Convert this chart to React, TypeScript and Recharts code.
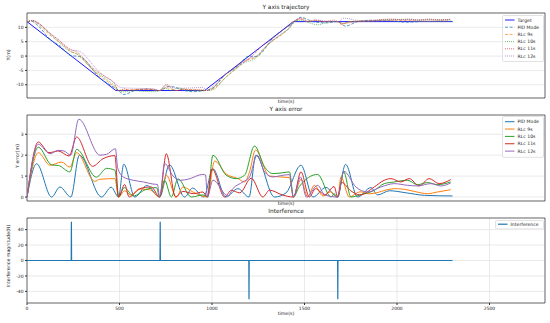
import React from 'react';
import { LineChart, Line, XAxis, YAxis, CartesianGrid, ReferenceArea } from 'recharts';

// shared axis ticks
const timeTicks = [0, 500, 1000, 1500, 2000, 2500];
const trajTicks = [-10, -5, 0, 5, 10];
const errTicks = [0, 1, 2, 3];
const intfTicks = [-40, -20, 0, 20, 40];

// ---- Y axis trajectory ----
const targetT = [0, 480, 960, 1440, 2300];
const targetY = [12, -12, -12, 12, 12];

const pidTrajT = [0, 25, 52, 133, 178, 237, 283, 403, 455, 495, 523, 583, 648, 717, 770, 852, 895, 955, 1005, 1075, 1140, 1200, 1237, 1338, 1400, 1440, 1481, 1546, 1616, 1676, 1722, 1787, 1859, 1960, 2050, 2150, 2300];
const pidTrajY = [12, 12.1, 11.0, 5.35, 3.58, 0.15, -0.15, -8.15, -10.28, -12, -13.4, -12, -11.5, -12, -10.5, -12, -12.4, -12, -11.1, -6.25, -3.4, 0, -0.15, 6.9, 9.8, 11.6, 13.5, 12, 11.55, 12, 10.45, 12, 12.45, 12.3, 11.8, 12.08, 12.05];

const rlc9TrajT = [0, 30, 61, 124, 187, 232, 268, 367, 475, 495, 528, 613, 663, 717, 753, 807, 843, 897, 975, 1014, 1077, 1140, 1176, 1203, 1235, 1311, 1419, 1440, 1481, 1517, 1553, 1600, 1680, 1697, 1742, 1850, 1985, 2039, 2093, 2165, 2219, 2290];
const rlc9TrajY = [12, 12.3, 11.05, 7.3, 4.3, 1.8, 0.7, -5.6, -10.9, -12, -11.8, -11.6, -11.6, -12, -11.0, -12, -11.5, -11.75, -12, -11.05, -7.25, -3.9, -1.9, -1.05, -0.5, 4.55, 10.0, 12, 12.85, 12, 12.55, 12, 12, 11.05, 12, 12.2, 12.4, 12.37, 12.27, 12.16, 12.24, 12.32];

const rlc10TrajT = [0, 30, 61, 169, 232, 268, 358, 430, 475, 495, 525, 575, 640, 700, 717, 744, 780, 816, 888, 975, 1005, 1077, 1131, 1176, 1230, 1284, 1329, 1383, 1419, 1440, 1472, 1571, 1643, 1680, 1712, 1751, 1877, 1931, 1985, 2057, 2111, 2165, 2219, 2290];
const rlc10TrajY = [12, 12.3, 11.34, 5.06, 1.6, 0.88, -4.94, -8.1, -10.47, -12, -12.45, -12, -12.35, -12.4, -12, -11.2, -12, -11.1, -12, -12, -11.75, -7.2, -4.33, -2.24, -0.94, 2.76, 5.33, 7.99, 9.75, 11.5, 12.5, 10.92, 12, 12, 11.4, 12, 12.32, 12.64, 12.72, 12.8, 12.59, 12.69, 12.59, 12.72];

const rlc11TrajT = [0, 30, 61, 119, 169, 228, 268, 358, 411, 475, 495, 528, 552, 609, 672, 717, 753, 803, 843, 951, 975, 1000, 1068, 1104, 1150, 1212, 1275, 1311, 1380, 1440, 1481, 1526, 1560, 1610, 1660, 1680, 1700, 1750, 1800, 1877, 1931, 1967, 2021, 2066, 2120, 2174, 2228, 2290];
const rlc11TrajY = [12, 12.4, 11.58, 8.17, 5.75, 2.56, 1.47, -4.38, -6.72, -9.77, -12, -11.4, -12, -11.6, -11.52, -12, -9.93, -12, -11.73, -11.76, -12, -11.35, -6.6, -5.12, -2.7, -0.3, 3.75, 5.22, 8.9, 12, 13.2, 12, 12.4, 12.1, 12.5, 12, 11.3, 11.7, 12.1, 12.48, 12.8, 12.88, 12.72, 12.88, 12.53, 12.88, 12.64, 12.83];

const rlc12TrajT = [0, 30, 61, 124, 169, 236, 280, 394, 430, 478, 494, 520, 575, 630, 681, 717, 744, 790, 830, 870, 950, 975, 1005, 1086, 1113, 1167, 1203, 1244, 1284, 1329, 1383, 1419, 1440, 1478, 1510, 1571, 1610, 1680, 1712, 1778, 1841, 1913, 1985, 2057, 2111, 2183, 2237, 2290];
const rlc12TrajY = [12, 12.4, 11.47, 7.87, 5.78, 2.2, 1.72, -5.7, -7.46, -9.59, -10.6, -11.04, -11.2, -11.28, -11.38, -12, -10.4, -11, -11.2, -11.15, -10.92, -12, -10.55, -5.7, -4.75, -2.37, -0.81, 0.2, 3.0, 5.49, 8.11, 9.88, 12, 12.96, 12, 12.56, 12.1, 12, 13.23, 12.48, 12.24, 12.48, 12.64, 12.56, 12.53, 12.64, 12.53, 12.67];

// ---- Y axis error ----
const pidErrT = [0, 52, 133, 178, 237, 283, 403, 455, 495, 523, 583, 648, 717, 770, 852, 895, 955, 1005, 1075, 1140, 1200, 1237, 1338, 1400, 1481, 1546, 1616, 1676, 1722, 1787, 1859, 1895, 1960, 2050, 2150, 2300];
const pidErr = [0, 1.59, 0, 0.48, 0, 2.0, 0, 0.47, 0, 1.57, 0, 0.55, 0, 1.54, 0, 0.43, 0, 1.35, 0, 0.4, 0, 2.0, 0, 0.2, 1.52, 0, 0.46, 0, 1.56, 0, 0.45, 0.1, 0.3, 0.2, 0.08, 0.05];

const rlc9ErrT = [0, 61, 124, 187, 232, 268, 367, 394, 475, 495, 528, 560, 613, 663, 717, 753, 807, 843, 897, 975, 1014, 1077, 1140, 1176, 1203, 1235, 1311, 1419, 1440, 1481, 1517, 1553, 1600, 1640, 1680, 1697, 1742, 1800, 1850, 1985, 2039, 2093, 2165, 2219, 2290];
const rlc9Err = [0, 2.12, 1.52, 1.67, 1.43, 2.12, 0.75, 0.85, 0.88, 0, 0.3, 0.1, 0.38, 0.35, 0, 1.05, 0, 0.48, 0.24, 0, 1.72, 1.1, 0.88, 0.72, 1.2, 2.25, 1.0, 0.93, 0, 0.85, 0, 0.56, 0.05, 0.25, 0, 0.96, 0, 0.25, 0.15, 0.4, 0.37, 0.27, 0.16, 0.24, 0.35];

const rlc10ErrT = [0, 61, 134, 169, 232, 268, 375, 430, 475, 495, 525, 575, 640, 700, 717, 744, 780, 816, 888, 951, 975, 1005, 1077, 1131, 1176, 1230, 1284, 1329, 1383, 1419, 1440, 1472, 1571, 1643, 1660, 1680, 1712, 1751, 1800, 1877, 1931, 1985, 2057, 2111, 2165, 2219, 2290];
const rlc10Err = [0, 2.38, 1.53, 1.51, 1.2, 2.28, 0.95, 1.37, 1.28, 0, 0.45, 0.05, 0.35, 0.45, 0, 0.8, 0, 0.87, 0, 0.1, 0, 2.0, 1.04, 0.88, 1.04, 2.44, 1.44, 1.12, 1.16, 1.2, 0, 0.5, 1.08, 0, 0.15, 0, 1.2, 0, 0.1, 0.32, 0.64, 0.72, 0.8, 0.59, 0.69, 0.59, 0.72];

const rlc11ErrT = [0, 61, 119, 169, 228, 268, 354, 411, 475, 495, 528, 552, 609, 672, 717, 753, 803, 843, 900, 951, 975, 1000, 1068, 1104, 1150, 1212, 1275, 1311, 1380, 1440, 1481, 1526, 1560, 1610, 1660, 1680, 1700, 1750, 1800, 1877, 1931, 1967, 2021, 2066, 2120, 2174, 2228, 2290];
const rlc11Err = [0, 2.63, 2.12, 2.2, 1.96, 2.87, 1.47, 1.83, 1.98, 0, 0.6, 0, 0.4, 0.48, 0, 2.07, 0, 0.27, 0.16, 0.24, 0, 1.35, 0, 0.32, 0.2, 0.9, 0, 0.33, 0.1, 0, 1.2, 0, 0.4, 0.1, 0.5, 0, 0.7, 0.3, 0.1, 0.48, 0.8, 0.88, 0.72, 0.88, 0.53, 0.88, 0.64, 0.83];

const rlc12ErrT = [0, 61, 124, 169, 200, 236, 280, 394, 430, 478, 490, 520, 575, 630, 681, 705, 717, 744, 790, 830, 870, 950, 965, 975, 1005, 1086, 1113, 1167, 1203, 1244, 1284, 1329, 1383, 1419, 1440, 1478, 1510, 1571, 1610, 1680, 1712, 1778, 1841, 1913, 1985, 2057, 2111, 2183, 2237, 2290];
const rlc12Err = [0, 2.52, 2.07, 2.23, 2.2, 2.0, 3.72, 2.0, 2.04, 2.31, 1.4, 0.96, 0.8, 0.72, 0.62, 0.6, 0, 1.6, 1.0, 0.8, 0.85, 1.08, 1.05, 0, 0.81, 0.05, 0.4, 0.72, 0.96, 2.0, 1.2, 0.96, 1.04, 1.07, 0, 0.96, 0, 0.56, 0.1, 0, 1.23, 0.48, 0.24, 0.48, 0.64, 0.56, 0.53, 0.64, 0.53, 0.67];

// ---- Interference ----
const intfT = [0, 239, 240, 241, 719, 720, 721, 1199, 1200, 1201, 1679, 1680, 1681, 2300];
const intfV = [0, 0, 50, 0, 0, 50, 0, 0, -50, 0, 0, -50, 0, 0];

const zip = (ts: number[], vs: number[]) => ts.map((t, i) => ({ t, v: vs[i] }));

const FONT = '"DejaVu Sans", sans-serif';
const X_MAX = 2800;

type SeriesDef = { name: string; data: { t: number; v: number }[]; color: string; dash?: string; width?: number; opacity?: number; curve?: 'monotone' | 'linear' };

const trajSeries: SeriesDef[] = [
  { name: 'Target', data: zip(targetT, targetY), color: '#1a1aff', width: 1, curve: 'linear' },
  { name: 'PID Mode', data: zip(pidTrajT, pidTrajY), color: '#1f77b4', dash: '3 1.6', width: 1, opacity: 0.75 },
  { name: 'RLc 9s', data: zip(rlc9TrajT, rlc9TrajY), color: '#ff7f0e', dash: '3 1.6', width: 0.9, opacity: 0.75 },
  { name: 'RLc 10s', data: zip(rlc10TrajT, rlc10TrajY), color: '#2ca02c', dash: '1 1', width: 0.9, opacity: 0.75 },
  { name: 'RLc 11s', data: zip(rlc11TrajT, rlc11TrajY), color: '#d62728', dash: '1 1', width: 0.9, opacity: 0.75 },
  { name: 'RLc 12s', data: zip(rlc12TrajT, rlc12TrajY), color: '#9467bd', dash: '1 1', width: 0.9, opacity: 0.75 },
];

const errSeries: SeriesDef[] = [
  { name: 'PID Mode', data: zip(pidErrT, pidErr), color: '#1f77b4' },
  { name: 'RLc 9s', data: zip(rlc9ErrT, rlc9Err), color: '#ff7f0e' },
  { name: 'RLc 10s', data: zip(rlc10ErrT, rlc10Err), color: '#2ca02c' },
  { name: 'RLc 11s', data: zip(rlc11ErrT, rlc11Err), color: '#d62728' },
  { name: 'RLc 12s', data: zip(rlc12ErrT, rlc12Err), color: '#9467bd' },
];

const intfSeries: SeriesDef[] = [
  { name: 'Interference', data: zip(intfT, intfV), color: '#1f77b4', width: 1.2, curve: 'linear' },
];

const Panel = ({ top, plotH, yDomain, yTicks, series, showX }: { top: number; plotH: number; yDomain: [number, number]; yTicks: number[]; series: SeriesDef[]; showX: boolean }) => {
  const xh = showX ? 12 : 3;
  return (
    <div style={{ position: 'absolute', left: 0, top: top - 2 }}>
      <LineChart width={550} height={plotH + 2 + xh} margin={{ top: 2, right: 5, bottom: 0, left: 0 }}>
        <CartesianGrid stroke="#dcdcdc" strokeWidth={0.6} />
        <XAxis
          type="number"
          dataKey="t"
          domain={[0, X_MAX]}
          ticks={timeTicks}
          interval={0}
          allowDataOverflow
          height={xh}
          tickSize={2}
          tickMargin={1.5}
          axisLine={false}
          stroke="#333"
          tick={showX ? { fontSize: 4.5, fill: '#222', fontFamily: FONT } : false}
        />
        <YAxis
          type="number"
          domain={yDomain}
          ticks={yTicks}
          interval={0}
          allowDataOverflow
          width={27}
          tickSize={2}
          tickMargin={1.5}
          axisLine={false}
          stroke="#333"
          tick={{ fontSize: 4.5, fill: '#222', fontFamily: FONT }}
        />
        {series.map((s) => (
          <Line
            key={s.name}
            data={s.data}
            dataKey="v"
            type={s.curve ?? 'monotone'}
            stroke={s.color}
            strokeWidth={s.width ?? 1}
            strokeDasharray={s.dash}
            strokeOpacity={s.opacity ?? 1}
            dot={false}
            activeDot={false}
            isAnimationActive={false}
          />
        ))}
        <ReferenceArea x1={0} x2={X_MAX} y1={yDomain[0]} y2={yDomain[1]} fill="none" stroke="#333" strokeWidth={0.7} />
      </LineChart>
    </div>
  );
};

const LegendBox = ({ x, y, w, rowY, rowStep, handleW, items }: { x: number; y: number; w: number; rowY: number; rowStep: number; handleW: number; items: SeriesDef[] }) => {
  const h = rowY * 2 + rowStep * (items.length - 1);
  return (
    <svg style={{ position: 'absolute', left: x, top: y }} width={w + 1} height={h + 1}>
      <rect x={0.5} y={0.5} width={w} height={h} rx={1.2} fill="rgba(255,255,255,0.85)" stroke="#cccccc" strokeWidth={0.6} />
      {items.map((s, i) => (
        <g key={s.name}>
          <line x1={3} x2={3 + handleW} y1={rowY + i * rowStep} y2={rowY + i * rowStep} stroke={s.color} strokeWidth={s.width ?? 1} strokeDasharray={s.dash} strokeOpacity={s.opacity ?? 1} />
          <text x={6 + handleW} y={rowY + i * rowStep} dy="0.35em" fontSize={4.6} fill="#222" fontFamily={FONT}>{s.name}</text>
        </g>
      ))}
    </svg>
  );
};

const Txt = ({ x, y, size, children, rotate }: { x: number; y: number; size: number; children: React.ReactNode; rotate?: boolean }) => (
  <div
    style={{
      position: 'absolute',
      left: x,
      top: y,
      transform: `translate(-50%, -50%)${rotate ? ' rotate(-90deg)' : ''}`,
      fontFamily: FONT,
      fontSize: size,
      color: '#222',
      whiteSpace: 'nowrap',
      lineHeight: 1,
    }}
  >
    {children}
  </div>
);

const App = () => (
  <div style={{ position: 'absolute', left: 0, top: 0, width: 550, height: 323, background: '#fff', overflow: 'hidden' }}>
    <Panel top={13} plotH={85} yDomain={[-14.6, 15]} yTicks={trajTicks} series={trajSeries} showX={false} />
    <Panel top={115} plotH={86} yDomain={[-0.19, 3.92]} yTicks={errTicks} series={errSeries} showX={false} />
    <Panel top={218} plotH={85} yDomain={[-55, 55]} yTicks={intfTicks} series={intfSeries} showX />

    <Txt x={286} y={8.3} size={5.8}>Y axis trajectory</Txt>
    <Txt x={286} y={110.3} size={5.8}>Y axis error</Txt>
    <Txt x={286} y={212.3} size={5.8}>Interference</Txt>

    <Txt x={286} y={101.8} size={4.7}>time(s)</Txt>
    <Txt x={286} y={204.3} size={4.7}>time(s)</Txt>
    <Txt x={286} y={314.3} size={4.7}>time(s)</Txt>

    <Txt x={9.3} y={55} size={4.7} rotate>Y(m)</Txt>
    <Txt x={18.3} y={156} size={4.7} rotate>Y error(m)</Txt>
    <Txt x={9.3} y={256} size={4.7} rotate>Interference magnitude(N)</Txt>

    <LegendBox x={502} y={15} w={41} rowY={5} rowStep={7.2} handleW={9.5} items={trajSeries} />
    <LegendBox x={502} y={116} w={41} rowY={5.7} rowStep={7.35} handleW={9.5} items={errSeries} />
    <LegendBox x={495} y={220} w={48} rowY={4.2} rowStep={7} handleW={9.5} items={intfSeries} />
  </div>
);

export default App;
